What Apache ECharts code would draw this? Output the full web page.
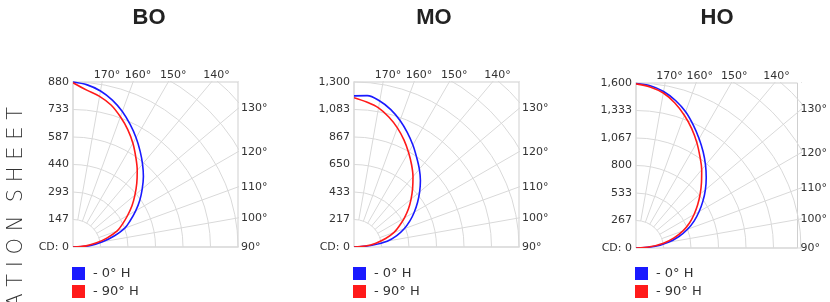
<!DOCTYPE html>
<html>
<head>
<meta charset="utf-8">
<script src="https://cdn.jsdelivr.net/npm/echarts@6/dist/echarts.min.js"></script>
<style>
  html, body { margin: 0; padding: 0; background: #fff; }
  #chart { width: 830px; height: 302px; }
</style>
</head>
<body>
<div id="chart"></div>
<script>
// vertical angles (deg), 90 = horizontal, 180 = straight down the lamp axis
const angles = [90, 95, 100, 105, 110, 115, 120, 125, 130, 135, 140, 145, 150, 155, 160, 165, 170, 175, 180];

const panelNames = ["BO", "MO", "HO"];
const seriesNames = ["0° H", "90° H"];
const cdMax = [880, 1300, 1600];

// candela readings per plane
const bo0 = [0, 95, 160, 227, 294, 338, 386, 435, 482, 531, 577, 624, 673, 721, 769, 811, 845, 868, 880];
const bo90 = [0, 70, 128, 189, 251, 292, 336, 384, 431, 481, 533, 584, 639, 691, 739, 784, 816, 840, 876];
const mo0 = [0, 132, 266, 349, 421, 486, 548, 611, 675, 740, 801, 861, 928, 995, 1061, 1121, 1168, 1197, 1191];
const mo90 = [0, 90, 175, 258, 336, 395, 459, 524, 587, 653, 723, 791, 860, 931, 999, 1060, 1113, 1146, 1176];
const ho0 = [0, 189, 318, 431, 532, 623, 707, 792, 878, 963, 1049, 1136, 1224, 1315, 1406, 1481, 1541, 1580, 1595];
const ho90 = [0, 135, 270, 382, 485, 572, 650, 730, 812, 898, 991, 1081, 1180, 1278, 1370, 1456, 1526, 1568, 1592];

// tick labels
const boTicks = [0, 147, 293, 440, 587, 733, 880];
const moTicks = [0, 217, 433, 650, 867, 1083, 1300];
const hoTicks = [0, 267, 533, 800, 1067, 1333, 1600];
const topTicks = [170, 160, 150, 140];
const sideTicks = [130, 120, 110, 100, 90];

const plane0 = [bo0, mo0, ho0];
const plane90 = [bo90, mo90, ho90];
const cdTicks = [boTicks, moTicks, hoTicks];

// layout
const pos = [
  { cx: 73, cy: 247, tx: 149 },
  { cx: 354, cy: 247, tx: 434 },
  { cx: 636, cy: 248, tx: 717 },
];
const R = 165;
const EXT = 1.42;
const RAD = Math.PI / 180;
const gridColor = "#d9d9d9";
const labelFont = "DejaVu Sans";
const blue = "#1a1aff";
const red = "#ff1a1a";

let chart = echarts.init(document.getElementById("chart"));

let option = {
  animation: false,
  grid: [],
  xAxis: [],
  yAxis: [],
  polar: [],
  angleAxis: [],
  radiusAxis: [],
  legend: [],
  series: [],
  graphic: [],
};

pos.forEach((p, i) => {
  const max = cdMax[i];
  const hidden = {
    axisLine: { show: false },
    axisTick: { show: false },
    splitLine: { show: false },
  };
  const lbl = { color: "#333", fontSize: 11, fontFamily: labelFont };

  // square frame + edge labels
  option.grid.push({
    left: p.cx,
    top: p.cy - R,
    width: R,
    height: R,
    show: true,
    borderColor: "#cfcfcf",
    borderWidth: 1,
  });
  option.xAxis.push({
    gridIndex: i,
    type: "value",
    position: "top",
    min: 0,
    max: max,
    z: 5,
    ...hidden,
    axisLabel: {
      ...lbl,
      margin: 1,
      padding: [0, 0, 0, 10],
      customValues: topTicks.map((a) => max * Math.tan((180 - a) * RAD)),
      formatter: (v) => Math.round(180 - Math.atan(v / max) / RAD) + "°",
    },
  });
  option.yAxis.push({
    gridIndex: i,
    type: "value",
    min: 0,
    max: max,
    z: 5,
    ...hidden,
    axisLabel: {
      ...lbl,
      margin: 4,
      customValues: cdTicks[i],
      formatter: (v) => (v === 0 ? "CD: 0" : v.toLocaleString("en-US")),
    },
  });
  option.yAxis.push({
    gridIndex: i,
    type: "value",
    position: "right",
    min: 0,
    max: max,
    z: 5,
    ...hidden,
    axisLabel: {
      ...lbl,
      margin: 3,
      padding: [3, 0, 0, 0],
      customValues: sideTicks.map((a) => max * Math.tan((a - 90) * RAD)),
      formatter: (v) => Math.round(90 + Math.atan(v / max) / RAD) + "°",
    },
  });

  // polar: rings
  option.polar.push({ center: [p.cx, p.cy], radius: R * EXT });
  option.angleAxis.push({
    polarIndex: 2 * i,
    type: "value",
    min: 90,
    max: 180,
    startAngle: 0,
    endAngle: 90,
    clockwise: false,
    ...hidden,
    axisLabel: { show: false },
  });
  option.radiusAxis.push({
    polarIndex: 2 * i,
    type: "value",
    min: 0,
    max: max * EXT,
    interval: max / 6,
    axisLine: { show: false },
    axisTick: { show: false },
    axisLabel: { show: false },
    splitLine: { show: true, lineStyle: { color: gridColor, width: 1 } },
  });

  // polar: spokes starting at the first ring
  option.polar.push({ center: [p.cx, p.cy], radius: [R / 6, R * EXT] });
  option.angleAxis.push({
    polarIndex: 2 * i + 1,
    type: "value",
    min: 90,
    max: 180,
    interval: 10,
    startAngle: 0,
    endAngle: 90,
    clockwise: false,
    axisLine: { show: false },
    axisTick: { show: false },
    axisLabel: { show: false },
    splitLine: { show: true, lineStyle: { color: gridColor, width: 1 } },
  });
  option.radiusAxis.push({
    polarIndex: 2 * i + 1,
    type: "value",
    min: 0,
    max: max * EXT,
    show: false,
  });

  [plane0[i], plane90[i]].forEach((vals, k) => {
    option.series.push({
      type: "line",
      name: seriesNames[k],
      coordinateSystem: "polar",
      polarIndex: 2 * i,
      data: vals.map((v, j) => [v, angles[j]]),
      symbol: "none",
      smooth: 0.35,
      color: k === 0 ? blue : red,
      lineStyle: { width: 1.6 },
      z: 3,
    });
  });

  option.legend.push({
    left: p.cx - 1,
    top: 267,
    orient: "vertical",
    padding: 0,
    itemWidth: 13,
    itemHeight: 13,
    itemGap: 5,
    icon: "rect",
    selectedMode: false,
    data: seriesNames,
    formatter: "- {name}",
    textStyle: { color: "#333", fontSize: 13, fontFamily: labelFont, padding: [0, 0, 0, 3] },
  });

  // clip the grid outside the square
  option.graphic.push({
    type: "rect",
    z: 3,
    shape: { x: p.cx - 2, y: p.cy - R * EXT - 3, width: R * EXT + 6, height: R * EXT + 3 - R - 1 },
    style: { fill: "#fff" },
  });
  option.graphic.push({
    type: "rect",
    z: 3,
    shape: { x: p.cx + R + 1, y: p.cy - R * EXT - 3, width: R * EXT - R + 4, height: R * EXT + 6 },
    style: { fill: "#fff" },
  });

  option.graphic.push({
    type: "text",
    z: 10,
    x: p.tx,
    y: 18,
    style: {
      text: panelNames[i],
      font: 'bold 22px "Liberation Sans Narrow", "Liberation Sans", sans-serif',
      fill: "#222",
      align: "center",
      verticalAlign: "middle",
    },
  });
});

option.graphic.push({
  type: "text",
  z: 10,
  x: 17,
  y: 107,
  rotation: Math.PI / 2,
  style: {
    text: "S P E C I F I C A T I O N  S H E E T",
    font: '200 21px "DejaVu Sans", "Open Sans", sans-serif',
    fill: "#333",
    align: "right",
    verticalAlign: "middle",
  },
});

chart.setOption(option);
</script>
</body>
</html>
